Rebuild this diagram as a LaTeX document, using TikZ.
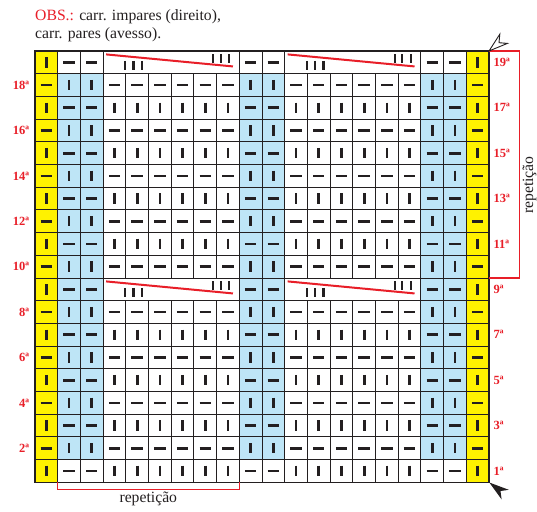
\documentclass[tikz,border=0pt]{standalone}
\usepackage{fontspec}
\setmainfont{Liberation Serif}
\definecolor{chartred}{RGB}{232,30,40}
\definecolor{cellblue}{RGB}{190,229,246}
\definecolor{cellyellow}{RGB}{255,242,0}
\definecolor{ink}{RGB}{35,31,32}

\begin{document}
\begin{tikzpicture}[x=1pt,y=-1pt,
    gridline/.style={ink,line width=0.9pt},
    stitch/.style={ink,line width=2.7pt},
    twist/.style={ink,line width=2.3pt},
    rowlabel/.style={chartred,font=\fontsize{12.5}{13}\selectfont\bfseries,inner sep=0pt},
    note/.style={ink,font=\fontsize{15.7}{17}\selectfont,inner sep=0pt}]
    \useasboundingbox (0,0) rectangle (537,511);

    % notes above the chart
    \node[note,anchor=base west] (obs) at (35,21) {\textcolor{chartred}{OBS.:} carr. impares (direito),};
    \node[note,anchor=base west] (obspares) at (35,38) {carr. pares (avesso).};

    \begin{scope}[shift={(35,51)},x=22.7pt,y=-22.7pt]
    % coloured columns
    \fill[cellyellow] (0,0) rectangle (1,19);
    \fill[cellyellow] (19,0) rectangle (20,19);
    \foreach \x in {1,9,17}
        \fill[cellblue] (\x,1) rectangle (\x+2,18);

    % grid, open where the cables cross (rows 9 and 19)
    \foreach \y in {0,...,19}
        \draw[gridline] (0,\y) -- (20,\y);
    \foreach \x in {0,1,2,3,9,10,11,17,18,19,20}
        \draw[gridline] (\x,0) -- (\x,19);
    \foreach \x in {4,5,6,7,8,12,13,14,15,16}{
        \draw[gridline] (\x,1) -- (\x,10);
        \draw[gridline] (\x,11) -- (\x,19);
    }
    \draw[ink,line width=1.1pt] (0,0) rectangle (20,19);

    % stitches: k=0 edge, k=1 blue column, k=2 plain column
    \foreach \r in {1,...,19}{
        \foreach \c/\k in {1/0,2/1,3/1,4/2,5/2,6/2,7/2,8/2,9/2,10/1,11/1,12/2,13/2,14/2,15/2,16/2,17/2,18/1,19/1,20/0}{
            \pgfmathtruncatemacro{\merged}{and(\k==2,or(\r==9,\r==19))}
            \pgfmathtruncatemacro{\isbar}{mod(\r+(\k==1),2)}
            \ifnum\merged=0
                \ifnum\isbar=1
                    \draw[stitch] (\c-0.5,19.27-\r) -- (\c-0.5,19.73-\r);
                \else
                    \draw[stitch] (\c-0.75,19.5-\r) -- (\c-0.25,19.5-\r);
                \fi
            \fi
        }
    }

    % cables
    \foreach \x in {3,11}
        \foreach \y in {0,10}{
            \draw[chartred,line width=2pt] (\x+0.13,\y+0.15) -- (\x+5.72,\y+0.68);
            \foreach \d in {0.98,1.34,1.71}
                \draw[twist] (\x+\d,\y+0.44) -- (\x+\d,\y+0.82);
            \foreach \d in {4.85,5.18,5.55}
                \draw[twist] (\x+\d,\y+0.14) -- (\x+\d,\y+0.52);
        }

    % row numbers
    \foreach \r in {2,4,...,18}
        \node[rowlabel,anchor=east] (lbl\r) at (-0.25,19.5-\r) {\r ª};
    \foreach \r in {1,3,...,19}
        \node[rowlabel,anchor=west] (lbl\r) at (20.19,19.5-\r) {\r ª};

    % repeat brackets
    \draw[chartred,line width=1.1pt] (20,0) -- (21.335,0) -- (21.335,10) -- (20,10);
    \draw[chartred,line width=1.1pt] (1,19) -- (1,19.3) -- (9,19.3) -- (9,19);
    \end{scope}

    \node[note,anchor=base] (repcols) at (148.3,502.7) {repetição};
    \node[note,anchor=base,rotate=90] (reprows) at (533,185) {repetição};

    % start and direction markers
    \draw[ink,fill=white,line width=0.9pt,line join=miter] (489,51) -- (499.8,34.2) -- (499,42.7) -- (507.4,43.4) -- cycle;
    \fill[ink] (489.3,482.5) -- (508.8,489.8) -- (500.5,491) -- (501.6,499.4) -- cycle;
\end{tikzpicture}
\end{document}
